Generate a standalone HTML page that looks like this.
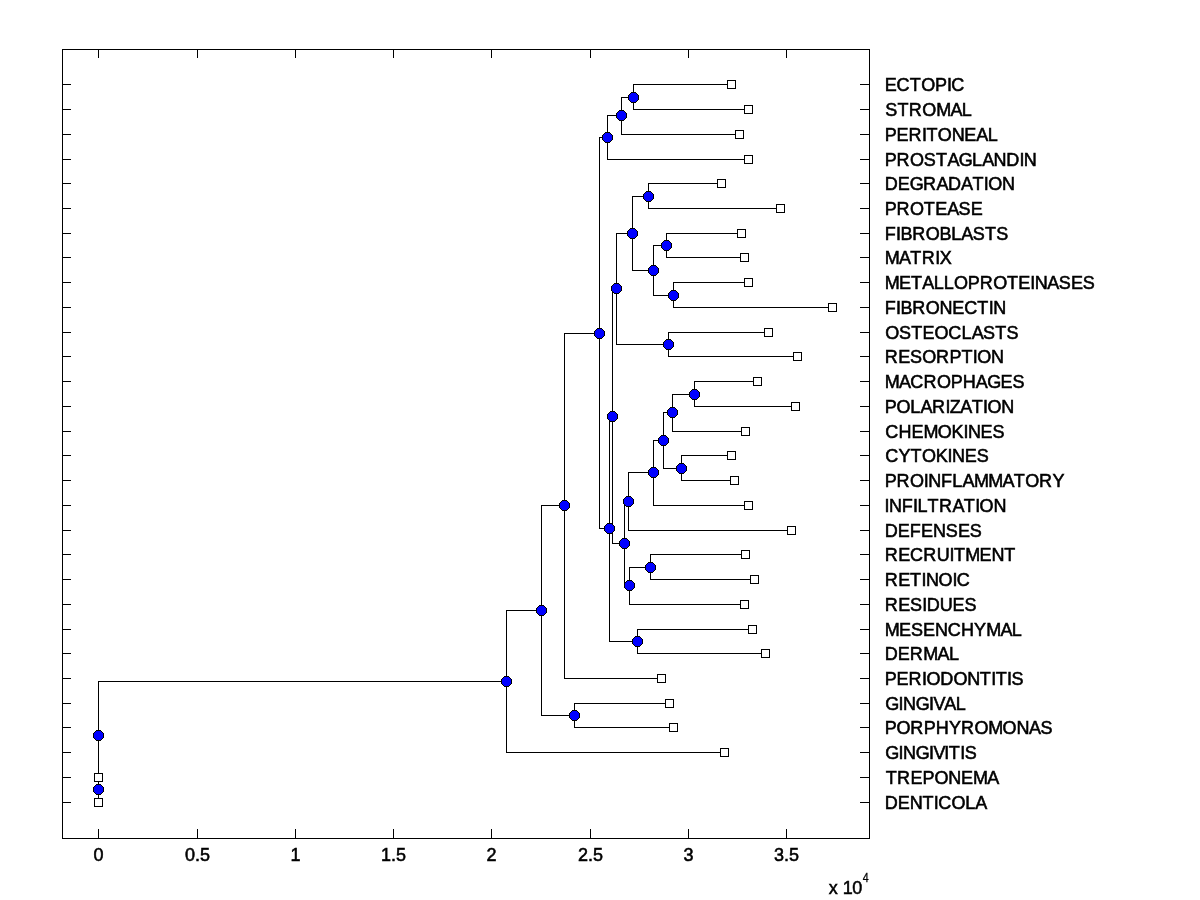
<!DOCTYPE html>
<html><head><meta charset="utf-8"><title>phytree</title>
<style>
html,body{margin:0;padding:0;background:#fff;}
body{width:1200px;height:900px;overflow:hidden;position:relative;}
svg{position:absolute;left:0;top:0;display:block;will-change:transform;}
text{font-family:"Liberation Sans",Arial,Helvetica,sans-serif;fill:#000;font-kerning:none;stroke:#000;stroke-width:0.55px;}
.lab{font-size:18px;letter-spacing:0px;}
.tk{font-size:18px;text-anchor:middle;stroke-width:0.5px;}
</style></head><body>
<svg width="1200" height="900" viewBox="0 0 1200 900">
<rect x="0" y="0" width="1200" height="900" fill="#fff"/>
<defs>
<g id="c" shape-rendering="crispEdges">
<rect x="-2" y="-5" width="5" height="11" fill="#000"/><rect x="-3" y="-4" width="7" height="9" fill="#000"/><rect x="-4" y="-3" width="9" height="7" fill="#000"/><rect x="-5" y="-2" width="11" height="5" fill="#000"/>
<rect x="-2" y="-4" width="5" height="9" fill="#00f"/><rect x="-3" y="-3" width="7" height="7" fill="#00f"/><rect x="-4" y="-2" width="9" height="5" fill="#00f"/>
</g>
<g id="s" shape-rendering="crispEdges"><rect x="-4" y="-4" width="9" height="9" fill="#000"/><rect x="-3" y="-3" width="7" height="7" fill="#fff"/></g>
</defs>

<g fill="#000" shape-rendering="crispEdges">
<rect x="633" y="84" width="99" height="1"/>
<rect x="633" y="109" width="116" height="1"/>
<rect x="633" y="84" width="1" height="26"/>
<rect x="621" y="97" width="13" height="1"/>
<rect x="621" y="134" width="119" height="1"/>
<rect x="621" y="97" width="1" height="38"/>
<rect x="607" y="115" width="15" height="1"/>
<rect x="607" y="159" width="142" height="1"/>
<rect x="607" y="115" width="1" height="45"/>
<rect x="648" y="183" width="74" height="1"/>
<rect x="648" y="208" width="133" height="1"/>
<rect x="648" y="183" width="1" height="26"/>
<rect x="666" y="233" width="76" height="1"/>
<rect x="666" y="257" width="79" height="1"/>
<rect x="666" y="233" width="1" height="25"/>
<rect x="673" y="282" width="76" height="1"/>
<rect x="673" y="307" width="160" height="1"/>
<rect x="673" y="282" width="1" height="26"/>
<rect x="653" y="245" width="14" height="1"/>
<rect x="653" y="295" width="21" height="1"/>
<rect x="653" y="245" width="1" height="51"/>
<rect x="632" y="196" width="17" height="1"/>
<rect x="632" y="270" width="22" height="1"/>
<rect x="632" y="196" width="1" height="75"/>
<rect x="668" y="332" width="101" height="1"/>
<rect x="668" y="356" width="130" height="1"/>
<rect x="668" y="332" width="1" height="25"/>
<rect x="616" y="233" width="17" height="1"/>
<rect x="616" y="344" width="53" height="1"/>
<rect x="616" y="233" width="1" height="112"/>
<rect x="694" y="381" width="64" height="1"/>
<rect x="694" y="406" width="102" height="1"/>
<rect x="694" y="381" width="1" height="26"/>
<rect x="672" y="394" width="23" height="1"/>
<rect x="672" y="431" width="74" height="1"/>
<rect x="672" y="394" width="1" height="38"/>
<rect x="681" y="455" width="51" height="1"/>
<rect x="681" y="480" width="54" height="1"/>
<rect x="681" y="455" width="1" height="26"/>
<rect x="663" y="412" width="10" height="1"/>
<rect x="663" y="468" width="19" height="1"/>
<rect x="663" y="412" width="1" height="57"/>
<rect x="653" y="440" width="11" height="1"/>
<rect x="653" y="505" width="96" height="1"/>
<rect x="653" y="440" width="1" height="66"/>
<rect x="628" y="472" width="26" height="1"/>
<rect x="628" y="530" width="164" height="1"/>
<rect x="628" y="472" width="1" height="59"/>
<rect x="650" y="554" width="96" height="1"/>
<rect x="650" y="579" width="105" height="1"/>
<rect x="650" y="554" width="1" height="26"/>
<rect x="629" y="567" width="22" height="1"/>
<rect x="629" y="604" width="116" height="1"/>
<rect x="629" y="567" width="1" height="38"/>
<rect x="624" y="501" width="5" height="1"/>
<rect x="624" y="585" width="6" height="1"/>
<rect x="624" y="501" width="1" height="85"/>
<rect x="612" y="288" width="5" height="1"/>
<rect x="612" y="543" width="13" height="1"/>
<rect x="612" y="288" width="1" height="256"/>
<rect x="637" y="629" width="116" height="1"/>
<rect x="637" y="653" width="129" height="1"/>
<rect x="637" y="629" width="1" height="25"/>
<rect x="609" y="416" width="4" height="1"/>
<rect x="609" y="641" width="29" height="1"/>
<rect x="609" y="416" width="1" height="226"/>
<rect x="599" y="137" width="9" height="1"/>
<rect x="599" y="528" width="11" height="1"/>
<rect x="599" y="137" width="1" height="392"/>
<rect x="564" y="333" width="36" height="1"/>
<rect x="564" y="678" width="98" height="1"/>
<rect x="564" y="333" width="1" height="346"/>
<rect x="574" y="703" width="96" height="1"/>
<rect x="574" y="727" width="100" height="1"/>
<rect x="574" y="703" width="1" height="25"/>
<rect x="541" y="505" width="24" height="1"/>
<rect x="541" y="715" width="34" height="1"/>
<rect x="541" y="505" width="1" height="211"/>
<rect x="506" y="610" width="36" height="1"/>
<rect x="506" y="752" width="219" height="1"/>
<rect x="506" y="610" width="1" height="143"/>
<rect x="98" y="777" width="1" height="1"/>
<rect x="98" y="802" width="1" height="1"/>
<rect x="98" y="777" width="1" height="26"/>
<rect x="98" y="681" width="409" height="1"/>
<rect x="98" y="789" width="1" height="1"/>
<rect x="98" y="681" width="1" height="109"/>
<rect x="62" y="49" width="808" height="1"/>
<rect x="62" y="838" width="808" height="1"/>
<rect x="62" y="49" width="1" height="790"/>
<rect x="869" y="49" width="1" height="790"/>
<rect x="98" y="49" width="1" height="9"/>
<rect x="98" y="829" width="1" height="10"/>
<rect x="197" y="49" width="1" height="9"/>
<rect x="197" y="829" width="1" height="10"/>
<rect x="295" y="49" width="1" height="9"/>
<rect x="295" y="829" width="1" height="10"/>
<rect x="393" y="49" width="1" height="9"/>
<rect x="393" y="829" width="1" height="10"/>
<rect x="491" y="49" width="1" height="9"/>
<rect x="491" y="829" width="1" height="10"/>
<rect x="590" y="49" width="1" height="9"/>
<rect x="590" y="829" width="1" height="10"/>
<rect x="688" y="49" width="1" height="9"/>
<rect x="688" y="829" width="1" height="10"/>
<rect x="786" y="49" width="1" height="9"/>
<rect x="786" y="829" width="1" height="10"/>
<rect x="62" y="84" width="9" height="1"/>
<rect x="860" y="84" width="10" height="1"/>
<rect x="62" y="109" width="9" height="1"/>
<rect x="860" y="109" width="10" height="1"/>
<rect x="62" y="134" width="9" height="1"/>
<rect x="860" y="134" width="10" height="1"/>
<rect x="62" y="159" width="9" height="1"/>
<rect x="860" y="159" width="10" height="1"/>
<rect x="62" y="183" width="9" height="1"/>
<rect x="860" y="183" width="10" height="1"/>
<rect x="62" y="208" width="9" height="1"/>
<rect x="860" y="208" width="10" height="1"/>
<rect x="62" y="233" width="9" height="1"/>
<rect x="860" y="233" width="10" height="1"/>
<rect x="62" y="257" width="9" height="1"/>
<rect x="860" y="257" width="10" height="1"/>
<rect x="62" y="282" width="9" height="1"/>
<rect x="860" y="282" width="10" height="1"/>
<rect x="62" y="307" width="9" height="1"/>
<rect x="860" y="307" width="10" height="1"/>
<rect x="62" y="332" width="9" height="1"/>
<rect x="860" y="332" width="10" height="1"/>
<rect x="62" y="356" width="9" height="1"/>
<rect x="860" y="356" width="10" height="1"/>
<rect x="62" y="381" width="9" height="1"/>
<rect x="860" y="381" width="10" height="1"/>
<rect x="62" y="406" width="9" height="1"/>
<rect x="860" y="406" width="10" height="1"/>
<rect x="62" y="431" width="9" height="1"/>
<rect x="860" y="431" width="10" height="1"/>
<rect x="62" y="455" width="9" height="1"/>
<rect x="860" y="455" width="10" height="1"/>
<rect x="62" y="480" width="9" height="1"/>
<rect x="860" y="480" width="10" height="1"/>
<rect x="62" y="505" width="9" height="1"/>
<rect x="860" y="505" width="10" height="1"/>
<rect x="62" y="530" width="9" height="1"/>
<rect x="860" y="530" width="10" height="1"/>
<rect x="62" y="554" width="9" height="1"/>
<rect x="860" y="554" width="10" height="1"/>
<rect x="62" y="579" width="9" height="1"/>
<rect x="860" y="579" width="10" height="1"/>
<rect x="62" y="604" width="9" height="1"/>
<rect x="860" y="604" width="10" height="1"/>
<rect x="62" y="629" width="9" height="1"/>
<rect x="860" y="629" width="10" height="1"/>
<rect x="62" y="653" width="9" height="1"/>
<rect x="860" y="653" width="10" height="1"/>
<rect x="62" y="678" width="9" height="1"/>
<rect x="860" y="678" width="10" height="1"/>
<rect x="62" y="703" width="9" height="1"/>
<rect x="860" y="703" width="10" height="1"/>
<rect x="62" y="727" width="9" height="1"/>
<rect x="860" y="727" width="10" height="1"/>
<rect x="62" y="752" width="9" height="1"/>
<rect x="860" y="752" width="10" height="1"/>
<rect x="62" y="777" width="9" height="1"/>
<rect x="860" y="777" width="10" height="1"/>
<rect x="62" y="802" width="9" height="1"/>
<rect x="860" y="802" width="10" height="1"/>
</g>
<g>
<use href="#c" x="633" y="97"/>
<use href="#c" x="621" y="115"/>
<use href="#c" x="607" y="137"/>
<use href="#c" x="648" y="196"/>
<use href="#c" x="666" y="245"/>
<use href="#c" x="673" y="295"/>
<use href="#c" x="653" y="270"/>
<use href="#c" x="632" y="233"/>
<use href="#c" x="668" y="344"/>
<use href="#c" x="616" y="288"/>
<use href="#c" x="694" y="394"/>
<use href="#c" x="672" y="412"/>
<use href="#c" x="681" y="468"/>
<use href="#c" x="663" y="440"/>
<use href="#c" x="653" y="472"/>
<use href="#c" x="628" y="501"/>
<use href="#c" x="650" y="567"/>
<use href="#c" x="629" y="585"/>
<use href="#c" x="624" y="543"/>
<use href="#c" x="612" y="416"/>
<use href="#c" x="637" y="641"/>
<use href="#c" x="609" y="528"/>
<use href="#c" x="599" y="333"/>
<use href="#c" x="564" y="505"/>
<use href="#c" x="574" y="715"/>
<use href="#c" x="541" y="610"/>
<use href="#c" x="506" y="681"/>
<use href="#c" x="98" y="789"/>
<use href="#c" x="98" y="735"/>
<use href="#s" x="731" y="84"/>
<use href="#s" x="748" y="109"/>
<use href="#s" x="739" y="134"/>
<use href="#s" x="748" y="159"/>
<use href="#s" x="721" y="183"/>
<use href="#s" x="780" y="208"/>
<use href="#s" x="741" y="233"/>
<use href="#s" x="744" y="257"/>
<use href="#s" x="748" y="282"/>
<use href="#s" x="832" y="307"/>
<use href="#s" x="768" y="332"/>
<use href="#s" x="797" y="356"/>
<use href="#s" x="757" y="381"/>
<use href="#s" x="795" y="406"/>
<use href="#s" x="745" y="431"/>
<use href="#s" x="731" y="455"/>
<use href="#s" x="734" y="480"/>
<use href="#s" x="748" y="505"/>
<use href="#s" x="791" y="530"/>
<use href="#s" x="745" y="554"/>
<use href="#s" x="754" y="579"/>
<use href="#s" x="744" y="604"/>
<use href="#s" x="752" y="629"/>
<use href="#s" x="765" y="653"/>
<use href="#s" x="661" y="678"/>
<use href="#s" x="669" y="703"/>
<use href="#s" x="673" y="727"/>
<use href="#s" x="724" y="752"/>
<use href="#s" x="98" y="777"/>
<use href="#s" x="98" y="802"/>
</g>
<g class="lab">
<text transform="scale(1.0,1)" x="884.67 896.62 909.83 921.18 934.96 946.88 951.34" y="91">ECTOPIC</text>
<text transform="scale(1.0,1)" x="885.33 897.50 908.85 922.35 936.13 950.43 961.79" y="116">STROMAL</text>
<text transform="scale(1.0,1)" x="884.67 896.59 908.54 922.04 926.50 937.85 951.63 964.32 976.27 987.63" y="141">PERITONEAL</text>
<text transform="scale(1.0,1)" x="884.67 896.59 910.09 923.87 936.04 947.39 958.75 972.10 982.25 993.61 1006.30 1019.40 1023.86" y="166">PROSTAGLANDIN</text>
<text transform="scale(1.0,1)" x="884.67 897.77 909.72 923.07 936.57 947.93 961.03 972.39 983.74 988.20 1001.98" y="190">DEGRADATION</text>
<text transform="scale(1.0,1)" x="884.67 896.59 910.09 923.87 935.22 947.17 958.53 970.70" y="215">PROTEASE</text>
<text transform="scale(1.0,1)" x="884.67 896.02 900.48 912.21 925.71 939.49 951.22 961.37 972.73 984.90 996.25" y="240">FIBROBLASTS</text>
<text transform="scale(1.0,1)" x="884.67 898.97 910.33 921.68 935.18 939.64" y="264">MATRIX</text>
<text transform="scale(1.0,1)" x="884.67 898.97 910.92 922.27 933.63 943.78 953.93 967.71 979.63 993.13 1006.91 1018.26 1030.21 1034.67 1047.36 1058.72 1070.89 1082.84" y="289">METALLOPROTEINASES</text>
<text transform="scale(1.0,1)" x="884.67 896.02 900.48 912.21 925.71 939.49 952.18 964.13 977.34 988.69 993.15" y="314">FIBRONECTIN</text>
<text transform="scale(1.0,1)" x="885.30 899.08 911.25 922.60 934.55 948.33 961.54 971.69 983.05 995.22 1006.57" y="339">OSTEOCLASTS</text>
<text transform="scale(1.0,1)" x="884.67 898.17 910.12 922.29 936.07 949.57 961.49 972.84 977.30 991.08" y="363">RESORPTION</text>
<text transform="scale(1.0,1)" x="884.67 898.97 910.33 923.54 937.04 950.82 962.74 975.83 987.19 1000.54 1012.49" y="388">MACROPHAGES</text>
<text transform="scale(1.0,1)" x="884.67 896.59 910.37 920.52 931.88 945.38 949.84 960.37 971.73 983.08 987.54 1001.32" y="413">POLARIZATION</text>
<text transform="scale(1.0,1)" x="885.24 898.45 911.54 923.49 937.79 951.57 963.45 967.91 980.60 992.55" y="438">CHEMOKINES</text>
<text transform="scale(1.0,1)" x="885.24 898.45 910.61 921.96 935.74 947.62 952.08 964.77 976.72" y="462">CYTOKINES</text>
<text transform="scale(1.0,1)" x="884.67 896.59 910.09 923.87 928.33 941.02 952.37 962.52 973.88 988.18 1002.48 1013.84 1025.19 1038.97 1052.47" y="487">PROINFLAMMATORY</text>
<text transform="scale(1.0,1)" x="884.49 888.95 901.64 912.99 917.45 927.60 938.95 952.45 963.81 975.16 979.62 993.40" y="512">INFILTRATION</text>
<text transform="scale(1.0,1)" x="884.67 897.77 909.72 921.07 933.02 945.71 957.88 969.83" y="537">DEFENSES</text>
<text transform="scale(1.0,1)" x="884.67 898.17 910.12 923.33 936.83 949.49 953.95 965.30 979.60 991.55 1004.24" y="561">RECRUITMENT</text>
<text transform="scale(1.0,1)" x="884.67 898.17 910.12 921.47 925.93 938.62 952.40 956.86" y="586">RETINOIC</text>
<text transform="scale(1.0,1)" x="884.67 898.17 910.12 922.29 926.75 939.85 952.51 964.46" y="611">RESIDUES</text>
<text transform="scale(1.0,1)" x="884.67 898.97 910.92 923.09 935.04 947.73 960.94 974.03 986.19 1000.49 1011.85" y="636">MESENCHYMAL</text>
<text transform="scale(1.0,1)" x="884.67 897.77 909.72 923.22 937.52 948.88" y="660">DERMAL</text>
<text transform="scale(1.0,1)" x="884.67 896.59 908.54 922.04 926.50 940.28 953.38 967.16 979.85 991.20 995.66 1007.01 1011.47" y="685">PERIODONTITIS</text>
<text transform="scale(1.0,1)" x="885.24 898.59 903.05 915.74 929.09 933.55 944.36 955.72" y="710">GINGIVAL</text>
<text transform="scale(1.0,1)" x="884.67 896.59 910.37 923.87 935.79 948.88 961.04 974.54 988.32 1002.62 1016.40 1029.09 1040.45" y="734">PORPHYROMONAS</text>
<text transform="scale(1.0,1)" x="885.24 898.59 903.05 915.74 929.09 933.55 944.36 948.82 960.17 964.63" y="759">GINGIVITIS</text>
<text transform="scale(1.0,1)" x="885.75 897.10 910.60 922.55 934.47 948.25 960.94 972.89 987.19" y="784">TREPONEMA</text>
<text transform="scale(1.0,1)" x="884.67 897.77 909.72 922.41 933.76 938.22 951.43 965.21 975.36" y="809">DENTICOLA</text>
</g>
<g class="tk">
<text x="98.5" y="861">0</text>
<text x="197.5" y="861">0.5</text>
<text x="295.5" y="861">1</text>
<text x="393.5" y="861">1.5</text>
<text x="491.5" y="861">2</text>
<text x="590.5" y="861">2.5</text>
<text x="688.5" y="861">3</text>
<text x="786.5" y="861">3.5</text>
</g>
<text x="828.8 837.8 842.7 852.3" y="894" style="font-size:18px;stroke-width:0.5px">x 10</text>
<text transform="translate(862.8,882) scale(0.82,1)" style="font-size:13px;stroke-width:0.3px">4</text>
</svg></body></html>
